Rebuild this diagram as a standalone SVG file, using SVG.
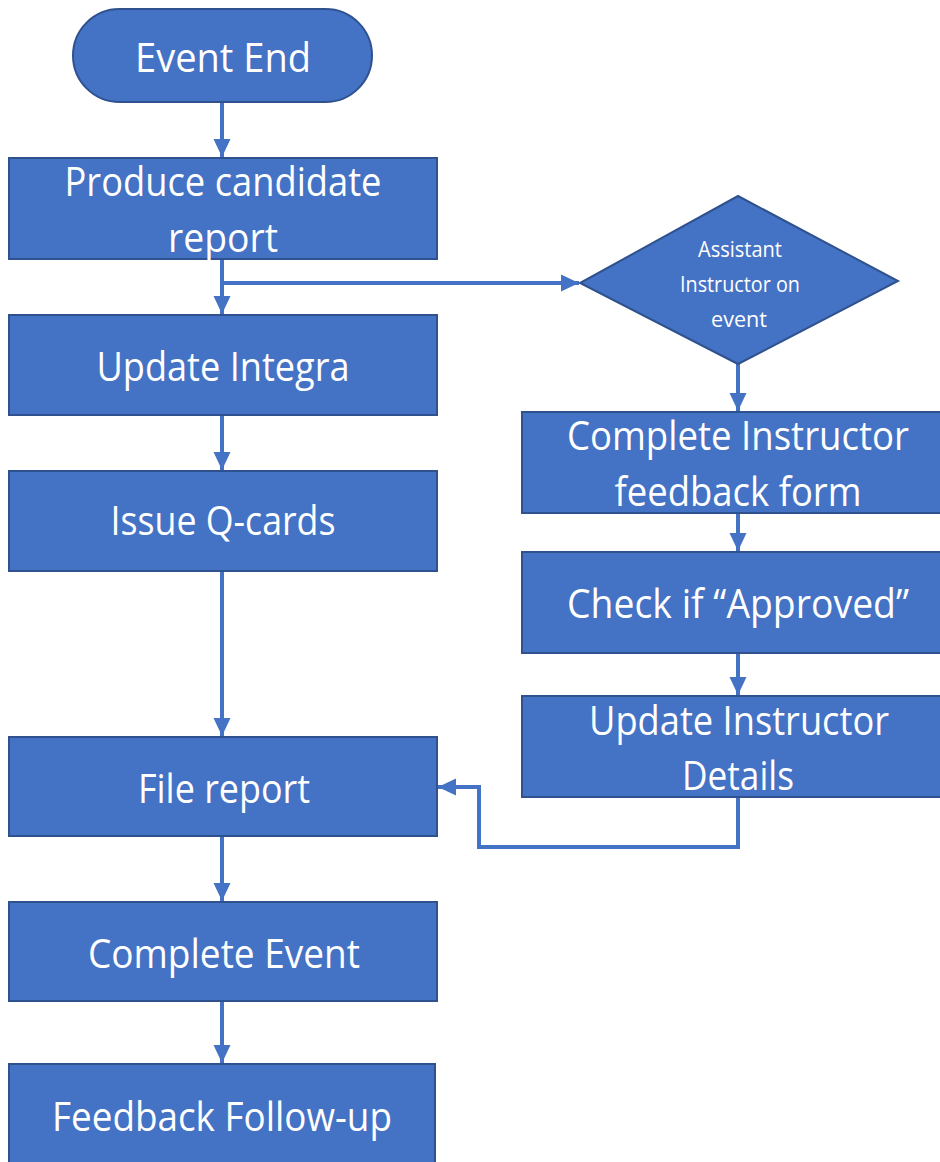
<svg xmlns="http://www.w3.org/2000/svg" width="940" height="1162" viewBox="0 0 940 1162">
<defs>
<style>
.n{fill:#4472C4;stroke:#2F528F;stroke-width:2}
.t{fill:#fff;font-family:"Open Sans","Noto Sans",sans-serif;font-size:40px;text-anchor:middle}
.s{fill:#fff;font-family:"Open Sans","Noto Sans",sans-serif;font-size:22px;text-anchor:middle}
.c{fill:none;stroke:#4472C4;stroke-width:4}
</style>
<marker id="a" markerUnits="userSpaceOnUse" markerWidth="20" markerHeight="20" viewBox="0 0 20 20" refX="18" refY="10" orient="auto">
<path d="M0,1.5 L18,10 L0,18.5 Z" fill="#4472C4"/>
</marker>
</defs>
<rect width="940" height="1162" fill="#fff"/>
<g id="connectors">
<path class="c" d="M222,102 V157" marker-end="url(#a)"/>
<path class="c" d="M222,259 V314" marker-end="url(#a)"/>
<path class="c" d="M222,283 H579" marker-end="url(#a)"/>
<path class="c" d="M222,415 V470" marker-end="url(#a)"/>
<path class="c" d="M222,571 V736" marker-end="url(#a)"/>
<path class="c" d="M222,836 V901" marker-end="url(#a)"/>
<path class="c" d="M222,1001 V1063" marker-end="url(#a)"/>
<path class="c" d="M738,364 V411" marker-end="url(#a)"/>
<path class="c" d="M738,513 V551" marker-end="url(#a)"/>
<path class="c" d="M738,653 V695" marker-end="url(#a)"/>
<path class="c" d="M738,797 V847 H479 V787 H438" marker-end="url(#a)"/>
</g>
<g id="event-end">
<rect class="n" x="73" y="9" width="299" height="93" rx="46.5"/>
<text class="t" x="223" y="72" textLength="176" lengthAdjust="spacingAndGlyphs">Event  End</text>
</g>
<g id="produce-report">
<rect class="n" x="9" y="158" width="428" height="101"/>
<text class="t" x="223" y="196" textLength="317" lengthAdjust="spacingAndGlyphs">Produce candidate</text>
<text class="t" x="223" y="252" textLength="110" lengthAdjust="spacingAndGlyphs">report</text>
</g>
<g id="update-integra">
<rect class="n" x="9" y="315" width="428" height="100"/>
<text class="t" x="223" y="381" textLength="253" lengthAdjust="spacingAndGlyphs">Update Integra</text>
</g>
<g id="issue-qcards">
<rect class="n" x="9" y="471" width="428" height="100"/>
<text class="t" x="223" y="535" textLength="225" lengthAdjust="spacingAndGlyphs">Issue Q-cards</text>
</g>
<g id="file-report">
<rect class="n" x="9" y="737" width="428" height="99"/>
<text class="t" x="224" y="803" textLength="172" lengthAdjust="spacingAndGlyphs">File report</text>
</g>
<g id="complete-event">
<rect class="n" x="9" y="902" width="428" height="99"/>
<text class="t" x="224" y="968" textLength="272" lengthAdjust="spacingAndGlyphs">Complete Event</text>
</g>
<g id="feedback-followup">
<rect class="n" x="9" y="1064" width="426" height="99"/>
<text class="t" x="222" y="1131" textLength="340" lengthAdjust="spacingAndGlyphs">Feedback Follow-up</text>
</g>
<g id="assistant-decision">
<polygon class="n" points="738,196 898,281 738,364 580,283"/>
<text class="s" x="740" y="257" textLength="84" lengthAdjust="spacingAndGlyphs">Assistant</text>
<text class="s" x="740" y="292" textLength="120" lengthAdjust="spacingAndGlyphs">Instructor on</text>
<text class="s" x="739" y="327" textLength="56" lengthAdjust="spacingAndGlyphs">event</text>
</g>
<g id="complete-instructor-form">
<rect class="n" x="522" y="412" width="420" height="101"/>
<text class="t" x="738" y="450" textLength="342" lengthAdjust="spacingAndGlyphs">Complete Instructor</text>
<text class="t" x="738" y="506" textLength="247" lengthAdjust="spacingAndGlyphs">feedback form</text>
</g>
<g id="check-approved">
<rect class="n" x="522" y="552" width="420" height="101"/>
<text class="t" x="738" y="618" textLength="342" lengthAdjust="spacingAndGlyphs">Check if “Approved”</text>
</g>
<g id="update-instructor-details">
<rect class="n" x="522" y="696" width="420" height="101"/>
<text class="t" x="739" y="735" textLength="300" lengthAdjust="spacingAndGlyphs">Update Instructor</text>
<text class="t" x="738" y="790" textLength="112" lengthAdjust="spacingAndGlyphs">Details</text>
</g>
</svg>
